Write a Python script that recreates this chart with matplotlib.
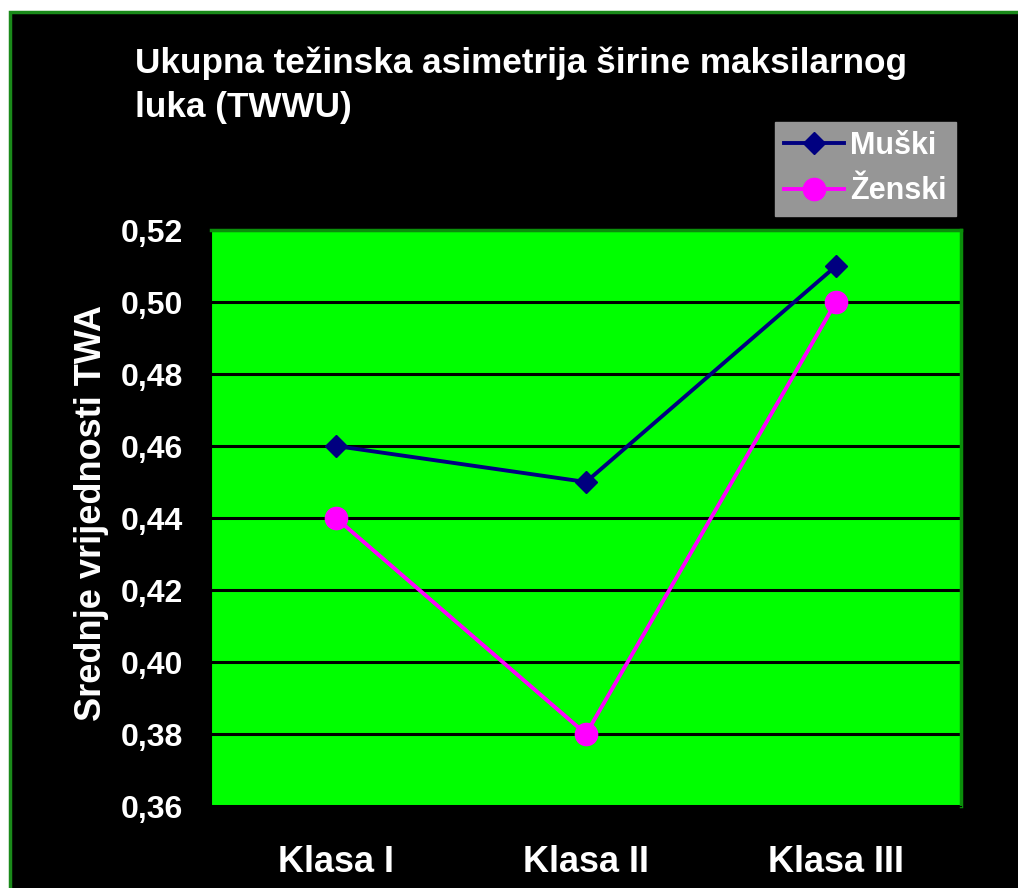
import matplotlib
matplotlib.use("Agg")
import matplotlib.pyplot as plt
from matplotlib.patches import Rectangle
from matplotlib.lines import Line2D

# data
categories = ["Klasa I", "Klasa II", "Klasa III"]
muski = [0.46, 0.45, 0.51]
zenski = [0.44, 0.38, 0.50]
yticks = [0.36, 0.38, 0.40, 0.42, 0.44, 0.46, 0.48, 0.50, 0.52]

plt.rcParams['font.family'] = ['Liberation Sans', 'DejaVu Sans']
plt.rcParams['font.weight'] = 'bold'

W, H = 1018, 888
fig = plt.figure(figsize=(W / 100, H / 100), dpi=100, facecolor="white")

# black chart area with thin green border
fig.patches.append(Rectangle((10 / W, -0.01), 1.02 - 10 / W, 1.01 - 12 / H,
                             transform=fig.transFigure, facecolor="black",
                             edgecolor="#1a8a1a", linewidth=2.5, zorder=-10))

ax = fig.add_axes([211 / W, 1 - 806 / H, 750 / W, 576 / H])
ax.set_facecolor("#00ff00")

x = range(len(categories))
ax.plot(x, muski, color="#000080", linewidth=2.8, marker="D", markersize=11,
        zorder=3, clip_on=False)
ax.plot(x, zenski, color="#ff00ff", linewidth=2.8, marker="o", markersize=16,
        zorder=3, clip_on=False)

ax.set_xlim(-0.5, 2.5)
ax.set_ylim(0.36, 0.52)
ax.set_yticks(yticks)
ax.set_yticklabels([f"{v:.2f}".replace(".", ",") for v in yticks])
ax.set_xticks(list(x))
ax.set_xticklabels(categories)
ax.tick_params(axis="y", length=0, pad=20, labelsize=23, labelcolor="white")
ax.tick_params(axis="x", length=0, pad=28, labelsize=26, labelcolor="white")
for lab in ax.get_xticklabels() + ax.get_yticklabels():
    lab.set_fontweight("bold")

ax.grid(axis="y", color="black", linewidth=2.2)
ax.set_axisbelow(True)
for side in ["left", "bottom"]:
    ax.spines[side].set_color("black")
for side in ["top", "right"]:
    ax.spines[side].set_color("#0a8f0a")
    ax.spines[side].set_linewidth(2.5)

fig.text(92 / W, 1 - 513 / H, "Srednje vrijednosti TWA", rotation=90,
         color="white", fontsize=26, fontweight="bold", ha="center", va="center")

fig.text(135 / W, 1 - 47 / H, "Ukupna težinska asimetrija širine maksilarnog\nluka (TWWU)",
         color="white", fontsize=25.3, fontweight="bold", ha="left", va="top",
         linespacing=1.4)

handles = [
    Line2D([], [], color="#000080", linewidth=2.8, marker="D", markersize=11),
    Line2D([], [], color="#ff00ff", linewidth=2.8, marker="o", markersize=16),
]
leg = fig.legend(handles, ["Muški", "Ženski"], loc="upper left",
                 bbox_to_anchor=(775 / W, 1 - 122 / H), borderaxespad=0,
                 frameon=True, fancybox=False, facecolor="#969696",
                 edgecolor="#969696", framealpha=1, fontsize=22,
                 handlelength=1.95, handletextpad=0.2, labelspacing=0.5,
                 borderpad=0.3)
for t in leg.get_texts():
    t.set_color("white")
    t.set_fontweight("bold")

fig.savefig("out.png", dpi=100, facecolor="white")
